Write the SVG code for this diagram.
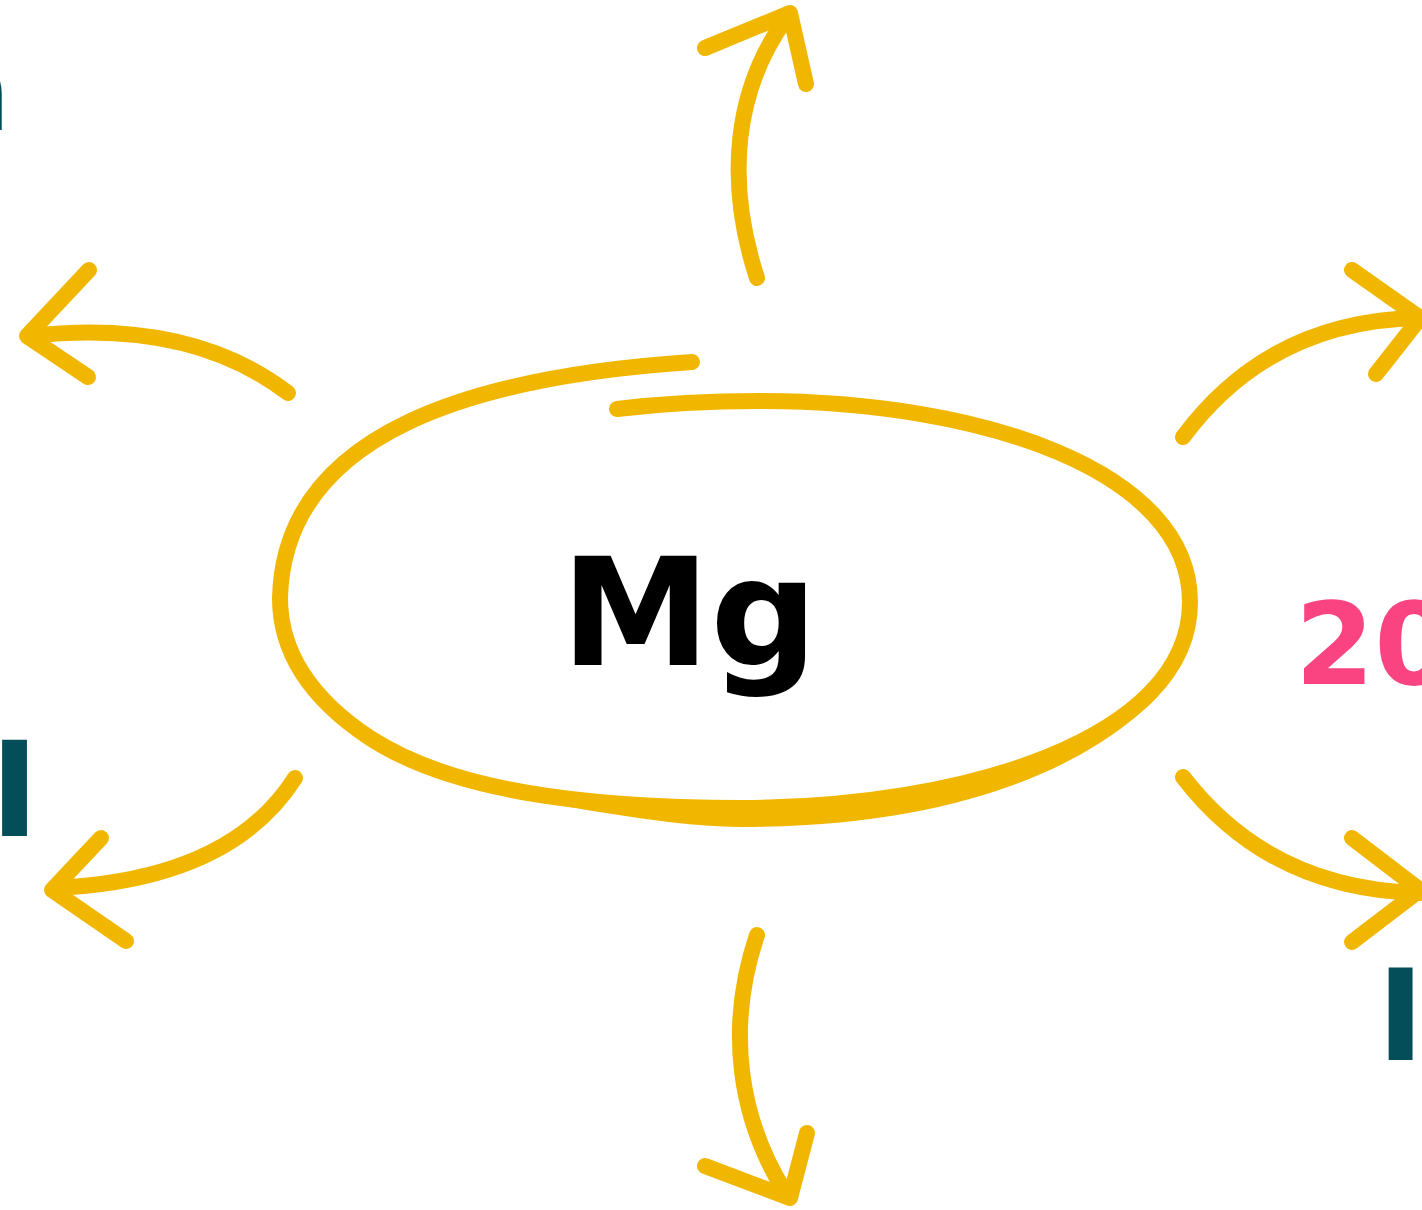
<svg xmlns="http://www.w3.org/2000/svg" width="1422" height="1210" viewBox="0 0 1422 1210">
  <defs>
    <style>
      .stroke { fill: none; stroke: #F1B700; stroke-width: 16; stroke-linecap: round; stroke-linejoin: round; }
      .band { fill: #F1B700; stroke: none; }
      .label { font-family: "DejaVu Sans", "Liberation Sans", sans-serif; font-weight: 700; }
      .teal { fill: #044E59; }
      .pink { fill: #F94481; }
    </style>
  </defs>
  <rect width="1422" height="1210" fill="#FFFFFF"/>

  <!-- edge labels, partly outside the canvas -->
  <g id="label-top-left">
    <text class="label teal" x="-68" y="130" font-size="110">n</text>
  </g>
  <g id="label-left">
    <text class="label teal" x="-10" y="836" font-size="132">I</text>
  </g>
  <g id="label-right">
    <text class="label pink" x="1295" y="684" font-size="114">20</text>
  </g>
  <g id="label-bottom-right">
    <text class="label teal" x="1377" y="1060" font-size="127">I</text>
  </g>

  <!-- centre node: hand-drawn loop around the symbol, heavier along the bottom -->
  <g id="node-mg">
    <path class="stroke" d="M692,362 C480,376 284,430 280,598 C280,660 320,705 370,738 C450,790 580,808 742,808 C960,808 1190,740 1190,602 C1190,470 980,401 760,401 C700,401 650,405 617,409"/>
    <path class="band" d="M540,802 C600,812 680,827 742,827 C1000,827 1114,741 1156,698 L1145,690 C1100,740 960,805 742,805 C650,805 590,800 540,794 Z"/>
    <text class="label" x="561" y="665" font-size="150" fill="#000000">Mg</text>
  </g>

  <!-- radiating arrows -->
  <g id="connectors">
    <g id="arrow-up-left">
      <path class="stroke" d="M288,393 Q190,318 30,336"/>
      <path class="stroke" d="M89,270 L27,336 L88,377"/>
    </g>
    <g id="arrow-up">
      <path class="stroke" d="M757,278 C725,180 735,90 785,20"/>
      <path class="stroke" d="M705,48 L790,13 L806,84"/>
    </g>
    <g id="arrow-up-right">
      <path class="stroke" d="M1183,437 Q1270,320 1420,318"/>
      <path class="stroke" d="M1352,270 L1420,318 L1376,374"/>
    </g>
    <g id="arrow-down-left">
      <path class="stroke" d="M295,778 Q230,880 55,888"/>
      <path class="stroke" d="M101,838 L52,890 L126,941"/>
    </g>
    <g id="arrow-down">
      <path class="stroke" d="M757,935 C725,1030 740,1120 785,1192"/>
      <path class="stroke" d="M705,1166 L790,1198 L807,1133"/>
    </g>
    <g id="arrow-down-right">
      <path class="stroke" d="M1183,777 Q1270,890 1420,893"/>
      <path class="stroke" d="M1352,838 L1420,890 L1352,942"/>
    </g>
  </g>
</svg>
